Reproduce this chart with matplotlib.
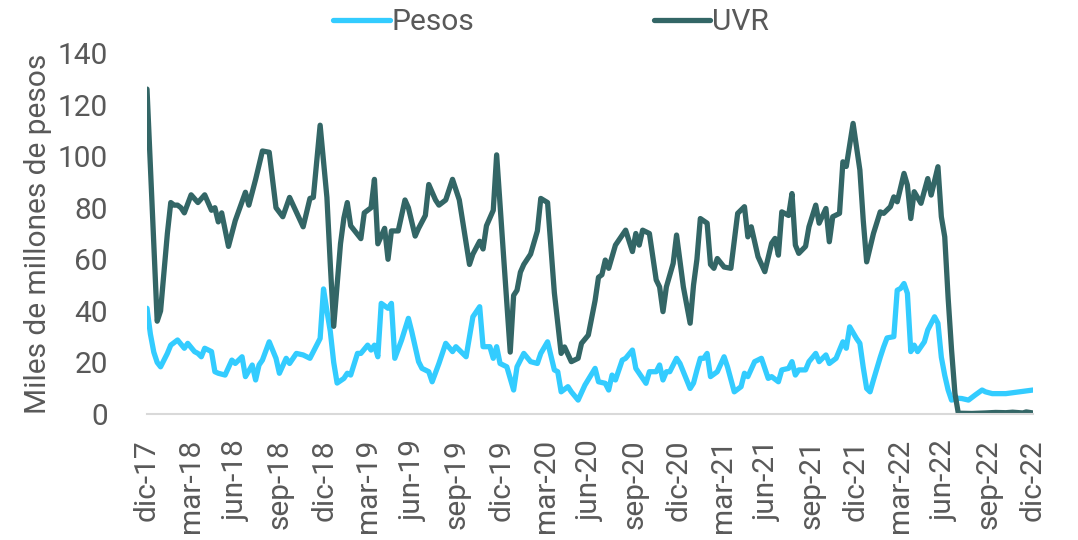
import numpy as np
import matplotlib
matplotlib.use("Agg")
import matplotlib.pyplot as plt

# Weekly series (week index from dic-17)
semanas_uvr = [0, 3, 4, 5, 6, 7, 8, 9, 10, 11, 13, 15, 17, 19, 20, 21, 22, 24, 26, 29, 30, 32, 34, 36, 38, 40, 42, 46, 48, 49,
               51, 52, 53, 54, 55, 56, 57, 58, 59, 60, 63, 64, 66, 67, 68, 70, 71, 72, 74, 76, 77, 79, 80, 82, 83, 85, 86, 88, 90, 92,
               95, 96, 98, 99, 100, 102, 103, 104, 105, 106, 107, 108, 109, 110, 111, 113, 115, 116, 118, 120, 122, 123, 125, 127, 128,
               130, 132, 133, 134, 135, 136, 138, 141, 143, 144, 145, 146, 148, 150, 151, 152, 153, 155, 156, 158, 160, 161, 162, 163,
               165, 166, 167, 168, 170, 172, 174, 176, 177, 178, 180, 182, 184, 185, 186, 187, 189, 190, 191, 192, 194, 195, 197, 198,
               200, 201, 202, 204, 205, 206, 208, 210, 211, 212, 214, 216, 217, 219, 220, 221, 223, 224, 225, 226, 228, 230, 231, 233,
               234, 235, 236, 237, 238, 239, 243, 247, 250, 253, 255, 258, 259, 261]
uvr = [126, 36, 40, 55, 70, 82, 81, 81, 80, 78, 85, 82, 85, 79, 80, 74.5, 78, 65, 75, 86, 81, 91, 102, 101.5, 80, 76.5, 84, 72.6, 83.6, 84,
       112, 98, 84, 58, 34, 50, 66, 76, 82, 73, 68, 78, 80, 91, 66, 72, 60, 71, 71, 83, 80, 69, 72, 77, 89, 83, 81, 83, 91, 83,
       58, 62, 67, 64, 73, 79, 100.5, 81, 62, 43, 24, 46, 48, 55, 58, 62, 71, 83.6, 82, 47, 23.5, 26, 20.3, 21.6, 27.4,
       30.6, 44, 53, 54, 59.7, 56.5, 65.5, 71.3, 63, 70, 65.5, 71.3, 70, 52, 49.3, 39.7, 49.3, 58.4, 69.4, 49.3, 35.2, 50, 60, 75.8,
       74, 58, 56.5, 60.3, 57, 56.5, 77.8, 80.4, 68.7, 72.6, 61, 55.2, 66.2, 68.1, 61.6, 78.4, 77, 85.5, 65.5, 62.3, 65, 72.6, 81, 74,
       79.7, 66.8, 76.5, 77.8, 97.8, 96, 112.7, 94.6, 75, 59, 70, 78.4, 77.8, 80.4, 84.2, 82.3, 93.3, 88.8, 75.8, 86.2, 81.7, 91.3, 84.9, 95.9,
       76.5, 68.7, 45, 25, 8, 0.3, 0.2, 0.4, 0.6, 0.5, 0.7, 0.4, 0.8, 0.4]

semanas_pesos = [0, 1, 2, 3, 4, 6, 7, 9, 11, 12, 14, 15, 16, 17, 19, 20, 21, 23, 25, 26, 28, 29, 31, 32, 33, 34, 36, 38, 39, 41,
                 42, 44, 46, 48, 50, 51, 52, 53, 54, 55, 56, 58, 59, 60, 62, 63, 65, 66, 67, 68, 69, 71, 72, 73, 75, 77, 78, 80, 81, 83,
                 84, 86, 88, 90, 91, 94, 96, 98, 99, 101, 102, 103, 104, 106, 108, 109, 110, 111, 113, 115, 116, 118, 120, 121, 122,
                 124, 125, 127, 129, 132, 133, 135, 136, 137, 138, 140, 141, 143, 144, 147, 148, 150, 151, 152, 153, 154, 156, 157, 159,
                 160, 161, 162, 163, 164, 165, 166, 168, 170, 171, 173, 175, 176, 177, 179, 181, 183, 184, 186, 187, 189, 190, 191, 192,
                 194, 195, 197, 198, 200, 201, 203, 205, 206, 207, 209, 210, 211, 212, 213, 214, 216, 217, 218, 220, 221, 222, 223, 224,
                 225, 226, 227, 229, 230, 232, 233, 234, 235, 236, 237, 239, 240, 242, 244, 246, 247, 249, 253, 257, 261]
pesos = [41, 31, 24, 20, 18.3, 23.5, 26.7, 28.7, 25.5, 27.4, 24.2, 23.5, 22.2, 25.5, 24.2, 16.4, 15.8, 15.1, 20.9, 19.6, 22.2, 14.5, 19, 13.2, 19, 20.9, 28, 21.6, 15.8, 21.6,
         19.6, 23.5, 22.9, 21.6, 26.7, 29.3, 48.5, 40, 32, 20, 12, 13.8, 15.8, 15.1, 23.5, 23.5, 26.7, 24.8, 26.7, 22.2, 42.9, 41, 42.9, 21.6, 28.7, 37.1, 31.9, 20.3, 17.7, 16.4,
         12.5, 19.6, 27.4, 24.2, 26.1, 22.2, 37.7, 41.6, 26.1, 26.1, 21.6, 26.1, 19.6, 18.3, 9.3, 18.3, 20.9, 23.5, 20.3, 19.6, 23.5, 28, 17.1, 16.4, 8.6,
         10.6, 8.6, 5.4, 11.2, 17.7, 12.5, 11.9, 9.3, 15.1, 13.2, 20.9, 21.6, 24.8, 17.7, 11.9, 16.4, 16.4, 19, 13.2, 16.4, 16.4, 21.6, 19.6, 13.2,
         9.9, 12, 17, 21.6, 21.6, 23.5, 14.5, 16.4, 22.2, 18.3, 8.6, 10.6, 15.8, 14.5, 20.3, 21.6, 13.8, 14.5, 12.5, 17.1, 17.7, 20.3, 15.1, 17.1,
         17.1, 20.3, 23.5, 20.3, 22.9, 19.6, 21.6, 28, 25.5, 33.8, 29.3, 27.4, 18, 9.9, 8.6, 13.2, 22, 26, 29.5, 30, 48, 48.7, 50.6, 46.8,
         24.2, 26.7, 24.2, 28, 32.6, 37.7, 35.2, 22, 15, 9.3, 5.4, 6.1, 6, 5.4, 7.4, 9.3, 8.6, 7.9, 7.9, 8.6, 9.3]

etiquetas_x = ["dic-17", "mar-18", "jun-18", "sep-18", "dic-18", "mar-19", "jun-19", "sep-19", "dic-19", "mar-20",
               "jun-20", "sep-20", "dic-20", "mar-21", "jun-21", "sep-21", "dic-21", "mar-22", "jun-22", "sep-22", "dic-22"]
n_semanas = 261

plt.rcParams['font.family'] = ['Roboto', 'DejaVu Sans']
texto = '#595959'
fs = 21.5

fig = plt.figure(figsize=(10.78, 5.40), dpi=100)
ax = fig.add_axes([147/1078, 1 - 414/540, (1033 - 147)/1078, (414 - 53)/540])

l1, = ax.plot(semanas_pesos, pesos, color='#33CCFF', lw=3.8, solid_joinstyle='round', solid_capstyle='round', label='Pesos')
l2, = ax.plot(semanas_uvr, uvr, color='#336666', lw=3.8, solid_joinstyle='round', solid_capstyle='round', label='UVR')

ax.set_xlim(0, n_semanas)
ax.set_ylim(0, 140)
ax.set_yticks(np.arange(0, 141, 20))
ax.set_xticks(np.linspace(0, n_semanas, len(etiquetas_x)))
ax.set_xticklabels(etiquetas_x, rotation=90)
ax.tick_params(axis='y', length=0, pad=28, labelsize=fs, labelcolor=texto)
ax.tick_params(axis='x', length=0, pad=18, labelsize=fs, labelcolor=texto)
for s in ['top', 'right', 'left']:
    ax.spines[s].set_visible(False)
ax.spines['bottom'].set_color('#D9D9D9')
ax.spines['bottom'].set_linewidth(1.5)
ax.set_ylabel('Miles de millones de pesos', fontsize=fs, color=texto, labelpad=4)

fig.legend(handles=[l1, l2], loc='center', bbox_to_anchor=(551/1078, 1 - 22/540), ncol=2, frameon=False,
           fontsize=fs, labelcolor=texto, handlelength=1.9, handletextpad=0.05, columnspacing=6.0)

fig.savefig('out.png', dpi=100)
